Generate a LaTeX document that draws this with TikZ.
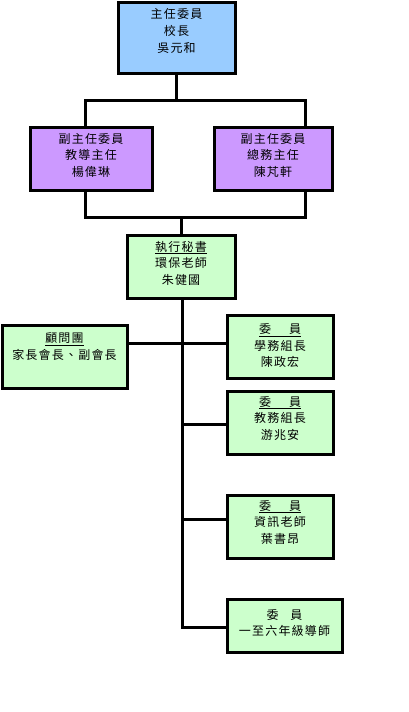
\documentclass[tikz,border=0pt]{standalone}
\usepackage{fontspec}
\newfontfamily\cjk[LetterSpace=10]{Noto Sans CJK TC}
\definecolor{boxblue}{HTML}{99CCFF}
\definecolor{boxpurple}{HTML}{CC99FF}
\definecolor{boxgreen}{HTML}{CCFFCC}
\begin{document}
\begin{tikzpicture}[x=1pt,y=-1pt,
  box/.style={draw=black,line width=3pt,inner sep=0pt,outer sep=0pt},
  txt/.style={font=\cjk\fontsize{12}{16.5}\selectfont,align=center,inner sep=0pt},
  conn/.style={line width=3pt,line cap=rect}]
\useasboundingbox (0,0) rectangle (409,712);
% boxes
\node[box,fill=boxblue,minimum width=117pt,minimum height=71pt] (top) at (176.5,37.5) {};
\node[box,fill=boxpurple,minimum width=122pt,minimum height=63pt] (p1) at (91,158.5) {};
\node[box,fill=boxpurple,minimum width=118pt,minimum height=63pt] (p2) at (273,158.5) {};
\node[box,fill=boxgreen,minimum width=108pt,minimum height=63pt] (ex) at (181,266.5) {};
\node[box,fill=boxgreen,minimum width=125pt,minimum height=63pt] (adv) at (64.5,356.5) {};
\node[box,fill=boxgreen,minimum width=106pt,minimum height=63pt] (m1) at (280,346.5) {};
\node[box,fill=boxgreen,minimum width=106pt,minimum height=63pt] (m2) at (280,422.5) {};
\node[box,fill=boxgreen,minimum width=106pt,minimum height=63pt] (m3) at (280,526.5) {};
\node[box,fill=boxgreen,minimum width=115pt,minimum height=53pt] (m4) at (284.5,625.5) {};
% texts
\node[txt] (ttop) at (176.5,31) {主任委員\\校長\\吳元和};
\node[txt] (tp1) at (91,155) {副主任委員\\教導主任\\楊偉琳};
\node[txt] (tp2) at (273,155) {副主任委員\\總務主任\\陳芃軒};
\node[txt] (tex) at (181,263) {\underline{執行秘書}\\環保老師\\朱健國};
\node[txt] (tadv) at (64.5,346.5) {\underline{顧問團}\\家長會長、副會長};
\node[txt] (tm1) at (280,345.5) {\underline{委\hspace{1.5em}員}\\學務組長\\陳政宏};
\node[txt] (tm2) at (280,418) {\underline{委\hspace{1.5em}員}\\教務組長\\游兆安};
\node[txt] (tm3) at (280,522) {\underline{委\hspace{1.5em}員}\\資訊老師\\葉書昂};
\node[txt] (tm4) at (284.5,623) {委\hspace{1em}員\\一至六年級導師};
% connector coordinates
\coordinate (L1) at (85,100);
\coordinate (R1) at (305,100);
\coordinate (L2) at (85,217);
\coordinate (R2) at (305,217);
\coordinate (sp) at (182,298);
\coordinate (j1) at (182,343);
\coordinate (j2) at (182,424);
\coordinate (j3) at (182,519);
\coordinate (j4) at (182,627);
% connectors
\draw[conn] (top.south) -- (top.south |- L1);
\draw[conn] (L1) -- (R1);
\draw[conn] (L1) -- (L1 |- p1.north);
\draw[conn] (R1) -- (R1 |- p2.north);
\draw[conn] (L2 |- p1.south) -- (L2);
\draw[conn] (R2 |- p2.south) -- (R2);
\draw[conn] (L2) -- (R2);
\draw[conn] (ex.north) -- (ex.north |- L2);
\draw[conn] (sp |- ex.south) -- (j4);
\draw[conn] (adv.east |- j1) -- (m1.west |- j1);
\draw[conn] (j2) -- (m2.west |- j2);
\draw[conn] (j3) -- (m3.west |- j3);
\draw[conn] (j4) -- (m4.west |- j4);
\end{tikzpicture}
\end{document}
